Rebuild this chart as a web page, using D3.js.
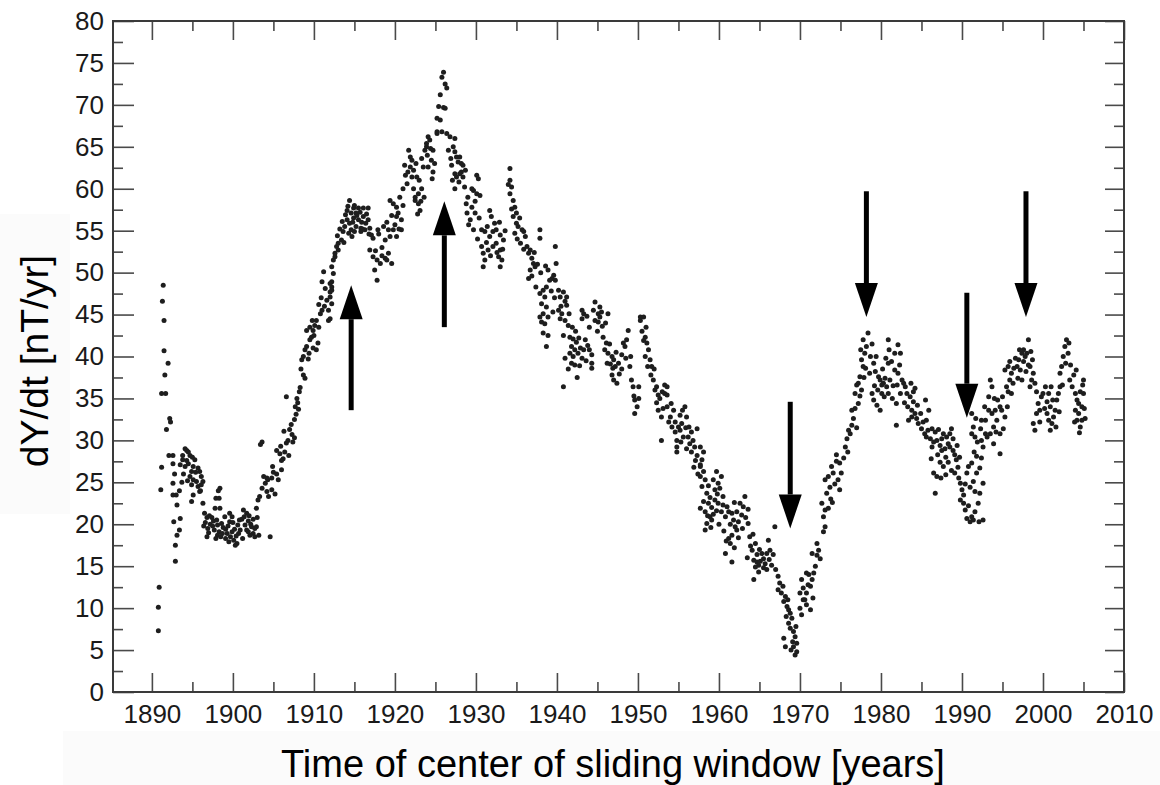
<!DOCTYPE html>
<html><head><meta charset="utf-8">
<script src="https://cdn.jsdelivr.net/npm/d3@7"></script>
<style>html,body{margin:0;padding:0;background:#fff;} svg{display:block;font-family:"Liberation Sans",Arial,Helvetica,sans-serif;}</style>
</head><body><svg id="c" width="1160" height="785"></svg>
<script>
// ---------- tick labels ----------
const xMajorTicks = [1890,1900,1910,1920,1930,1940,1950,1960,1970,1980,1990,2000,2010];
const xMinorTicks = [1895,1905,1915,1925,1935,1945,1955,1965,1975,1985,1995,2005];
const yMajorTicks = [0,5,10,15,20,25,30,35,40,45,50,55,60,65,70,75,80];
const yMinorTicks = [2.5,7.5,12.5,17.5,22.5,27.5,32.5,37.5,42.5,47.5,52.5,57.5,62.5,67.5,72.5,77.5];

// ---------- data: [year, dY/dt] ----------
const pts1890s = [[1890.8,7.3],[1890.8,10.1],[1890.9,12.5],[1891.1,24.1],[1891.2,26.8],[1891.4,48.5],[1891.3,46.6],[1891.5,44.3],[1891.5,40.7],[1892.0,39.2],[1891.6,37.8],[1891.2,35.6],[1891.7,35.6],[1892.2,32.6],[1892.3,32.2],[1891.8,31.3],[1892.1,28.2],[1892.6,28.2],[1892.6,27.2],[1892.6,24.9],[1892.6,23.5],[1893.0,23.5],[1893.4,24.0],[1893.1,22.3],[1893.5,20.7],[1892.7,20.3],[1893.4,19.3],[1893.1,18.7],[1892.9,17.5],[1892.9,15.6],
[1894.1,29.0],[1894.3,28.8],[1894.5,28.6],[1893.8,28.2],[1894.7,28.2],[1893.8,27.7],[1894.3,27.6],[1895.3,27.7],[1893.5,27.1],[1894.1,26.9],[1895.1,26.9],[1895.7,26.7],[1894.9,26.3],[1895.9,26.3],[1894.7,25.7],[1896.1,25.7],[1895.1,25.3],[1895.5,25.1],[1896.3,25.1],[1894.9,24.7],[1895.7,24.5],[1896.1,24.7],[1895.1,23.5],[1895.9,23.9],[1894.9,22.7],
[1893.9,26.0],[1894.5,27.2],[1895.0,28.0],[1895.4,26.2],[1896.0,24.0],[1894.4,25.2],[1893.7,25.0],[1892.8,26.0],
[1896.3,22.5],[1896.5,21.3],[1896.8,20.8],[1897.4,20.8],[1896.6,20.2],[1897.2,20.0],[1898.1,19.9],[1896.9,19.5],[1897.7,19.3],[1898.3,19.1],[1899.1,19.4],[1898.6,20.1],[1899.6,20.3],[1896.8,18.5],[1898.1,18.7],[1898.5,18.5],[1899.1,18.3],[1899.7,18.5],[1899.3,18.9],[1899.9,19.1],[1899.0,20.9],[1899.9,20.9],[1899.6,21.3],[1898.4,24.3],[1898.2,24.0],[1897.9,23.1],[1898.3,23.1],[1897.8,21.9],[1898.4,21.9],[1897.5,19.8],[1898.8,19.6],[1897.1,21.0],
[1897.0,19.0],[1897.6,20.4],[1898.0,20.5],[1898.7,18.9],[1899.4,19.8],[1896.4,19.8],[1897.9,18.3],[1899.5,17.9]];

const pts1900s = [[1900.1,18.1],[1900.5,17.7],[1900.3,17.5],[1900.7,18.9],[1900.2,19.4],[1900.6,19.9],[1901.3,21.7],[1901.7,21.3],[1901.1,20.6],[1901.9,20.4],[1902.5,20.6],[1901.5,19.9],[1902.3,19.7],[1902.7,19.5],[1901.7,19.3],[1902.5,18.9],[1902.1,18.7],[1902.7,18.5],[1904.6,18.5],[1902.9,21.9],[1903.1,22.9],[1903.3,23.3],[1903.6,24.3],[1904.0,24.9],[1904.3,25.3],[1903.8,25.7],[1904.2,25.5],[1904.8,25.5],[1905.0,26.2],[1905.4,26.0],[1906.0,26.5],[1903.6,29.8],[1903.4,29.5],[1904.2,23.9],[1904.8,24.1],[1905.2,23.6],[1904.4,23.3],[1905.4,28.8],[1905.8,28.4],[1906.2,27.8],[1906.0,27.6],[1906.6,29.7],[1906.8,30.0],[1907.4,29.8],[1907.6,30.3],[1907.0,31.3],[1907.2,31.9],[1907.6,32.5],[1907.8,33.1],[1908.1,33.7],[1908.0,34.5],[1906.6,35.2],[1908.7,37.8],[1908.9,37.4],[1908.5,39.6],[1908.7,40.0],[1908.9,40.8],[1909.1,41.2],[1909.5,42.0],[1909.7,42.3],[1909.9,43.1],[1910.1,43.7],[1909.5,43.5],[1910.3,44.3],[1910.8,45.1],[1911.0,45.5],[1910.5,41.6],[1909.9,41.0],[1910.3,40.8],[1909.1,43.1],[1908.3,36.3],[1907.9,35.0],
[1900.0,20.2],[1900.4,18.6],[1900.9,19.3],[1901.2,18.3],[1901.9,19.1],[1902.2,20.0],[1902.9,19.7],[1903.0,20.8],[1900.8,20.5],[1902.0,21.0],[1901.4,20.9],[1903.2,18.7],
[1904.9,26.9],[1905.6,25.3],[1906.4,28.6],[1906.9,28.2],[1907.3,30.7],[1907.7,34.0],[1908.2,35.8],[1905.9,29.3],[1906.3,31.1],
[1908.4,38.5],[1909.3,39.7],[1909.8,44.3],[1910.0,42.5],[1910.6,46.2],[1910.9,47.0],[1910.6,43.5],[1909.4,40.4]];

const pts1910s = [[1911.6,46.7],[1912.0,47.7],[1911.8,45.5],[1912.2,48.9],[1911.4,48.1],[1911.0,48.9],[1911.2,50.1],[1912.4,49.9],[1912.6,51.9],[1912.2,48.3],[1911.8,44.3],[1912.0,44.5],[1911.3,46.0],
[1912.0,48.7],[1912.2,47.9],[1912.0,47.1],[1912.2,46.3],[1912.2,50.7],[1912.4,51.5],[1912.6,52.3],[1912.8,53.1],[1913.0,53.5],[1913.4,53.9],[1913.6,54.9],[1913.8,55.5],[1913.0,52.7],
[1912.9,54.4],[1913.2,55.2],[1913.5,56.1],[1913.7,53.6],
[1914.4,58.6],[1914.1,57.4],[1914.6,57.1],[1914.9,57.7],[1915.5,57.7],[1916.1,57.7],[1916.7,57.7],[1914.1,56.3],[1914.4,55.9],[1914.9,56.5],[1915.2,55.5],[1915.5,56.3],[1915.8,55.3],[1916.1,56.7],[1916.4,55.9],[1916.7,56.3],[1915.0,54.9],[1915.8,54.9],[1916.3,55.1],[1914.6,55.1],[1913.9,56.9],[1915.2,57.1],[1916.9,55.3],[1914.3,54.7],
[1914.8,56.0],[1915.3,56.8],[1915.7,57.2],[1916.0,55.2],[1916.5,57.0],[1915.0,58.0],[1914.2,57.9],[1915.9,56.0],[1916.8,54.6],[1914.7,54.3],
[1917.1,54.5],[1917.3,54.1],[1917.9,55.1],[1918.6,55.5],[1919.2,55.1],[1919.4,54.3],[1919.8,55.1],[1920.2,54.3],[1920.8,55.1],[1918.8,53.9],[1916.9,52.7],[1917.3,51.9],[1917.8,51.5],[1918.2,51.1],[1918.8,51.7],[1919.2,52.3],[1919.6,51.1],[1917.8,49.1],[1917.5,50.3],[1918.4,52.0],[1919.0,51.5],
[1918.0,54.6],[1918.4,53.0],[1919.0,56.0],[1919.6,56.8],[1920.0,55.7],[1920.5,55.2],[1917.6,52.6],
[1919.4,58.6],[1919.8,58.2],[1920.2,57.8],[1920.6,59.0],[1920.2,56.7],[1920.8,56.3],[1920.4,57.1],[1921.0,58.0]];

const pts1920s = [[1921.7,64.6],[1921.9,63.8],[1921.2,62.8],[1921.9,62.6],[1922.3,62.2],[1922.7,61.4],[1922.1,61.4],[1921.5,60.6],[1922.3,60.0],[1922.9,59.4],[1922.5,58.6],[1922.9,58.2],[1923.1,57.4],[1923.3,60.0],[1922.1,63.4],[1923.7,64.6],[1923.9,65.0],[1923.5,62.6],[1921.0,60.0],[1922.5,59.0],
[1921.3,61.6],[1921.6,62.0],[1922.6,63.0],[1923.0,61.0],[1923.3,63.6],[1923.6,59.0],[1922.8,57.0],[1923.2,58.5],[1924.0,64.0],[1924.4,64.8],
[1924.1,66.2],[1924.3,65.8],[1923.9,65.4],[1924.7,64.6],[1924.5,63.4],[1924.9,63.0],[1924.7,62.0],[1924.1,62.6],[1925.2,66.6],[1924.6,61.2],
[1926.0,73.9],[1925.8,73.3],[1926.2,72.5],[1926.4,72.0],[1925.6,71.2],[1925.4,69.8],[1926.0,69.7],[1926.2,69.6],[1925.2,68.4],[1925.6,68.2],[1925.2,66.8],[1925.8,66.8],
[1926.4,66.6],[1926.8,66.2],[1927.4,66.0],[1927.2,65.0],[1926.6,64.6],[1927.4,64.4],[1927.6,63.8],[1927.8,63.2],[1928.2,63.0],[1928.4,62.8],[1927.0,62.8],[1927.4,61.8],[1928.2,62.0],[1928.7,62.2],[1927.6,61.4],[1928.4,61.4],[1927.4,60.0],[1928.0,63.8],
[1926.9,63.6],[1927.1,61.0],[1927.9,60.8],[1928.6,60.2],[1928.0,61.8],[1929.0,59.0],[1928.8,58.2],
[1930.1,61.6],[1930.3,61.2],[1929.5,60.0],[1929.7,59.8],[1930.1,59.4],[1930.5,59.2],[1929.5,57.8],[1929.9,57.1],[1928.9,57.1],[1929.3,56.3],[1929.1,55.7],[1929.7,55.1],[1929.9,58.5],[1930.4,56.5],[1930.2,54.0]];

const pts1930s = [[1930.7,55.1],[1931.1,54.9],[1931.7,54.3],[1932.1,54.9],[1932.5,55.1],[1932.3,55.9],[1931.9,56.7],[1931.7,57.4],[1933.0,54.5],[1933.4,53.9],[1930.7,53.1],[1930.9,52.3],[1931.1,51.5],[1930.9,50.7],[1931.5,52.7],[1932.1,53.1],[1932.5,53.5],[1933.0,52.7],[1932.8,51.9],[1933.2,51.5],[1933.0,50.7],
[1931.3,53.6],[1931.8,52.0],[1932.6,52.4],[1932.9,56.0],[1931.4,55.5],[1933.3,52.8],[1933.6,55.0],
[1934.2,62.4],[1934.2,61.0],[1934.4,60.2],[1934.2,59.4],[1934.6,58.6],[1934.8,57.8],[1934.6,56.7],[1935.0,57.1],[1935.4,56.5],[1935.2,55.5],[1935.7,55.1],[1935.0,55.9],[1934.8,54.7],[1935.9,54.9],
[1934.4,57.6],[1935.1,54.0],[1935.5,53.5],[1935.9,52.8],[1936.1,54.3],[1934.0,60.5],
[1936.3,53.1],[1936.5,52.3],[1936.7,52.7],[1936.9,51.7],[1937.1,51.1],[1937.3,50.7],[1936.7,50.3],[1936.5,49.3],
[1936.9,49.6],[1937.2,52.4],[1937.6,51.0],[1937.4,48.3],[1938.0,50.0],[1938.6,50.8],[1939.3,47.8],[1939.7,47.0],[1938.9,42.5],[1939.5,45.3],[1938.3,42.8],
[1937.9,55.1],[1937.9,54.1],[1939.8,53.1],[1939.9,51.1],[1938.9,50.3],[1939.6,49.7],[1939.4,49.3],[1938.7,48.3],[1938.3,47.9],[1937.9,47.5],[1938.5,47.1],[1938.1,46.3],[1938.7,45.9],[1939.1,49.1],[1939.8,49.1],[1938.3,45.1],[1938.9,44.7],[1938.1,44.1],[1938.5,43.9],[1937.9,44.7],[1938.7,41.2]];

const pts1940s = [[1940.2,47.9],[1940.8,47.7],[1940.4,47.1],[1941.2,47.1],[1940.2,45.5],[1940.6,45.1],[1940.4,44.5],[1941.0,44.3],[1941.4,43.7],[1941.2,46.1],[1940.8,42.5],[1941.6,42.3],[1942.0,42.1],[1942.4,41.7],[1941.8,41.2],[1942.2,40.8],[1942.9,41.0],[1942.0,40.0],[1942.6,40.4],[1941.6,40.4],[1941.0,39.8],[1941.8,39.2],[1943.1,39.8],[1943.3,40.8],[1943.1,45.5],[1943.3,45.1],[1943.1,44.5],[1944.3,40.2],[1944.3,39.2],[1944.3,38.6],[1940.8,36.4],
[1940.5,46.0],[1941.0,46.6],[1941.5,45.1],[1941.9,43.5],[1942.3,43.0],[1942.7,42.2],[1942.2,39.0],[1942.8,38.9],[1943.5,42.0],[1943.8,41.3],[1943.6,39.5],[1944.0,40.8],[1944.0,43.5],[1943.7,44.8],[1941.4,38.5],[1942.5,37.5],
[1944.7,46.5],[1945.3,45.9],[1945.5,45.3],[1945.1,45.1],[1946.3,45.1],[1944.7,44.3],[1945.1,44.1],[1945.3,44.7],[1945.7,42.3],[1946.1,41.6],[1945.9,40.8],[1946.3,40.4],[1946.8,40.0],[1947.0,39.6],[1946.6,39.1],[1947.2,38.8],[1947.6,39.2],[1946.8,37.8],[1947.0,37.2],[1948.0,40.2],[1948.2,41.6],[1948.4,41.2],[1948.8,43.1],[1949.0,38.8],[1949.2,37.2],[1949.4,36.4],
[1944.5,45.5],[1945.0,43.0],[1945.6,43.6],[1946.0,44.0],[1946.5,41.5],[1947.3,40.5],[1947.7,37.9],[1948.0,38.5],[1948.5,39.8],[1948.6,42.0],[1947.4,36.8],[1946.9,38.6],[1946.2,39.2],[1949.1,40.0],[1949.5,35.3]];

const pts1950s = [[1950.3,44.7],[1950.7,44.7],[1950.3,44.3],[1950.9,42.3],[1951.1,41.6],[1950.7,41.9],[1951.3,40.8],[1951.5,39.6],[1951.7,38.8],[1951.9,37.2],[1952.3,36.4],[1952.1,36.0],[1952.5,35.4],[1950.1,36.4],[1949.6,34.8],[1949.9,34.0],[1949.6,33.2],[1950.1,35.0],[1953.3,36.6],[1953.6,36.4],[1953.3,35.6],[1953.6,35.4],
[1950.5,43.0],[1950.9,40.0],[1951.2,38.8],[1951.6,37.8],[1951.0,43.5],[1952.0,38.5],[1952.7,35.0],[1952.3,34.5],[1953.0,35.8],[1953.1,33.8],
[1952.5,33.6],[1952.9,32.8],[1953.6,34.0],[1954.0,32.8],[1954.4,33.6],[1953.8,32.2],[1954.2,31.6],[1954.6,32.2],[1955.0,31.6],[1955.4,32.0],[1955.8,34.0],[1956.0,32.8],[1955.2,31.2],[1955.6,30.4],[1956.2,30.4],[1954.8,30.0],[1956.8,30.0],[1957.3,31.4],[1957.7,29.2],[1958.1,28.6],[1956.4,29.6],[1954.8,29.2],[1954.8,28.6],[1956.6,28.6],[1957.3,28.2],[1957.7,27.1],[1952.9,30.0],
[1954.1,34.4],[1954.6,31.0],[1955.2,33.0],[1955.5,33.6],[1955.9,31.5],[1956.3,31.6],[1956.6,31.0],[1957.0,29.2],[1956.0,29.0],[1957.1,27.6],[1955.3,29.8],[1956.9,26.8],[1957.4,26.0],
[1957.9,27.7],[1957.7,26.9],[1958.1,26.3],[1957.7,25.7],[1958.3,25.3],[1957.9,24.5],[1958.5,23.7],[1958.1,22.7],[1958.7,22.5],[1957.7,21.9],[1958.3,21.5],[1958.9,20.9],[1959.1,20.5],[1958.3,19.3],[1958.5,20.1],[1959.7,26.3],[1959.3,25.3],[1959.9,24.9],[1959.5,24.1],[1959.5,22.9],[1959.9,22.5],
[1958.7,24.6],[1958.9,23.2],[1959.1,22.0],[1959.3,21.2],[1959.7,21.6],[1958.6,21.0],[1959.0,19.6],[1959.8,23.6]];

const pts1960s = [[1960.3,25.7],[1960.1,24.3],[1960.5,23.3],[1960.5,22.3],[1961.0,22.1],[1961.2,21.5],[1960.3,21.5],[1960.8,20.9],[1961.6,21.3],[1961.8,20.5],[1962.2,21.5],[1962.6,22.5],[1963.2,23.3],[1963.0,22.1],[1962.8,21.1],[1962.0,19.7],[1962.2,19.3],[1961.6,18.7],[1961.2,18.3],[1961.4,17.7],[1960.8,16.5],[1961.6,15.5],
[1960.0,20.0],[1960.6,19.2],[1961.4,20.0],[1961.9,22.6],[1962.4,20.3],[1962.9,19.5],[1962.4,18.4],[1963.3,20.8],[1963.6,21.8],[1960.9,18.0],[1961.9,17.2],
[1963.6,20.1],[1963.8,18.5],[1964.5,17.7],[1964.1,16.9],[1964.3,15.7],[1964.7,15.5],[1964.9,15.1],[1964.5,14.9],[1965.3,16.5],[1965.5,15.9],[1965.7,15.3],[1965.9,16.5],[1966.3,16.9],[1966.1,18.1],[1966.9,19.7],[1966.5,15.1],[1964.9,14.3],[1964.3,13.4],
[1963.9,17.4],[1964.2,18.8],[1964.7,16.4],[1965.1,15.6],[1965.5,14.8],[1965.9,14.6],[1966.2,15.8],[1966.7,16.4],[1965.0,17.0],[1963.5,16.0],
[1967.3,13.8],[1967.5,13.0],[1967.3,12.2],[1967.7,11.8],[1968.2,11.4],[1968.0,10.8],[1968.4,10.2],[1968.6,9.8],[1968.8,9.4],[1969.0,8.8],[1968.6,8.2],[1968.8,7.6],[1969.2,7.2],[1969.4,6.6],[1969.6,5.8],[1968.0,6.4],[1968.2,5.4],[1969.2,5.4],[1969.4,4.4],
[1967.0,14.6],[1967.9,12.6],[1968.3,9.0],[1968.5,11.0],[1969.1,6.0],[1969.6,4.8],[1969.5,7.8],[1968.9,5.0],
[1970.0,10.0],[1970.2,13.4],[1970.4,12.4],[1970.0,11.8],[1970.8,14.2],[1971.7,14.2],[1971.5,13.4],[1971.3,12.6],[1970.8,11.8],[1970.6,11.0],[1970.8,10.4],[1971.3,9.8],[1970.4,11.0],
[1970.2,9.2],[1971.0,12.8],[1971.1,14.0],[1971.6,11.2],[1971.9,15.0],[1971.5,16.5],
[1972.1,17.7],[1972.3,16.9],[1972.1,16.3],[1972.5,15.9]];

const pts1970s = [[1972.9,19.1],[1973.1,19.7],[1972.9,20.9],[1973.1,21.7],[1973.5,21.9],[1972.7,22.5],[1973.3,23.7],[1973.7,24.4],[1973.1,25.3],[1973.5,25.7],[1974.1,26.1],[1973.9,26.9],[1974.5,27.5],[1974.9,27.3],[1974.7,25.3],[1974.9,24.1],[1974.5,28.3],[1975.4,27.9],[1975.8,30.2],[1976.2,30.8],[1976.4,31.8],[1976.6,32.6],[1976.0,31.2],[1976.4,33.6],[1977.2,34.4],[1976.8,35.6],[1977.0,36.6],[1977.4,37.6],[1977.8,38.8],[1977.6,39.6],[1978.0,40.4],[1978.2,41.2],[1977.8,42.0],[1978.4,42.8],[1977.6,36.0],[1977.2,36.8],
[1973.8,23.0],[1974.3,24.8],[1974.0,22.6],[1975.1,26.1],[1975.6,29.2],[1975.9,28.6],[1976.8,33.8],[1977.0,31.5],[1977.4,35.3],[1977.9,37.5],[1978.1,38.6],[1977.5,40.8],
[1978.7,40.0],[1979.1,39.2],[1979.3,38.2],[1979.7,37.6],[1979.9,37.2],[1980.1,36.6],[1980.3,36.8],[1980.5,37.4],[1980.7,36.4],[1980.9,35.6],[1981.1,37.2],[1980.9,39.2],[1981.3,39.4],[1981.7,40.4],[1982.1,41.4],[1982.4,40.4],[1981.7,38.4],[1982.1,38.0],[1982.6,37.2],[1982.8,36.8],[1980.9,42.0],[1978.9,35.6],[1979.1,34.8],[1979.5,34.2],[1979.9,33.6],[1980.1,35.6],[1982.4,35.6],[1981.9,34.4],[1983.0,36.4],[1983.2,35.6],[1983.6,35.2],[1984.0,34.6],[1984.2,36.2],[1983.8,33.6],[1984.2,33.2],[1983.8,32.8],[1983.4,32.4],[1984.4,32.6],[1984.6,32.0],[1985.0,31.4],[1985.4,30.8],[1981.9,31.8],[1985.9,33.6],[1985.6,32.4],[1986.3,31.4],[1985.6,30.4],[1986.1,30.2],[1986.3,29.2],
[1978.6,38.0],[1978.9,41.5],[1979.4,40.0],[1979.6,36.0],[1980.2,38.5],[1980.6,39.8],[1981.0,40.8],[1981.5,36.5],[1981.4,35.0],[1982.0,36.6],[1982.3,39.0],[1982.9,34.5],[1983.3,34.0],[1983.7,36.8],[1984.0,35.8],[1984.5,34.2],[1984.9,33.2],[1985.2,32.2],[1985.5,34.8],[1985.8,31.2],[1979.2,36.5],[1980.4,35.2]];

const pts1980s = [[1986.7,31.0],[1986.9,30.0],[1987.3,29.4],[1987.5,28.8],[1987.7,30.8],[1988.1,30.4],[1988.3,29.6],[1988.5,29.2],[1988.7,31.4],[1988.9,28.8],[1989.1,28.3],[1989.3,27.7],[1988.3,27.4],[1987.3,27.4],[1987.7,26.9],[1986.5,26.1],[1986.9,25.7],[1986.7,23.7],[1988.7,26.4],[1989.1,26.1],[1989.6,25.5],[1989.8,24.9],[1990.0,24.1],[1990.2,23.5],[1989.8,22.9],[1990.2,22.5],[1990.4,21.7],[1990.6,20.7],[1991.2,20.9],[1991.0,20.3],[1991.4,20.5],[1991.6,21.5],[1992.0,22.5],[1992.2,23.7],[1991.6,23.9],[1991.4,25.1],[1991.8,26.1],[1992.2,26.7],[1992.4,27.9],[1992.6,29.2],[1992.9,30.8],[1992.4,30.0],[1991.8,28.1],[1991.2,27.3],[1990.8,26.9],[1990.6,26.1],[1991.2,33.2],[1991.4,31.6],[1991.2,30.8],[1991.6,30.4],[1992.4,32.4],[1992.1,20.3],[1992.6,20.5],[1992.6,24.9],
[1986.5,29.8],[1987.0,28.3],[1987.1,31.3],[1987.5,30.2],[1987.9,29.0],[1988.0,28.0],[1988.5,30.8],[1988.9,30.2],[1989.4,29.4],[1989.7,28.0],[1989.5,26.8],[1988.0,25.9],[1987.4,25.5],[1986.2,27.8],
[1990.4,24.8],[1990.8,22.2],[1991.0,24.4],[1991.5,28.6],[1991.9,29.8],[1992.3,31.4],[1992.8,34.0],[1991.7,32.6]];

const pts1990s = [[1993.1,30.4],[1993.5,30.8],[1993.9,31.6],[1993.7,33.2],[1994.1,33.6],[1994.3,32.4],[1994.7,30.8],[1994.7,28.4],[1993.9,29.6],[1992.9,32.4],[1993.3,33.6],[1993.5,37.2],[1993.7,36.4],[1994.7,34.0],[1994.9,33.6],[1995.3,32.8],[1995.5,36.4],[1995.7,35.8],[1996.1,35.6],[1995.9,37.2],[1996.1,38.0],[1995.3,38.4],[1995.7,38.8],[1995.9,39.4],[1996.6,39.8],[1997.0,39.6],[1997.2,38.4],[1996.8,38.8],[1997.6,39.4],[1997.8,40.0],[1997.4,40.4],[1998.0,40.4],[1998.2,42.0],[1997.6,40.8],[1998.4,38.8],[1997.4,37.2],[1998.6,37.2],[1998.4,36.4],[1998.8,38.0],[1998.2,39.0],
[1993.3,35.2],[1994.0,35.0],[1994.4,34.8],[1994.2,31.0],[1995.0,35.2],[1995.1,31.4],[1995.6,34.0],[1996.3,36.8],[1996.4,38.6],[1996.9,37.4],[1997.1,40.8],[1997.9,38.2],[1998.5,40.6],[1998.7,39.6],[1999.0,36.8]];

const pts2000s = [[1998.8,32.0],[1999.0,31.2],[1999.2,33.2],[1999.6,33.6],[1999.4,34.4],[1999.8,35.2],[2000.0,35.6],[2000.3,36.4],[2000.5,34.6],[2000.9,34.0],[2000.5,33.2],[2000.7,32.4],[2001.1,32.0],[2000.9,31.2],[2001.3,32.8],[2001.5,33.6],[2001.7,34.8],[2001.9,35.6],[2002.1,36.4],[2002.1,38.0],[2002.3,38.8],[2002.5,40.0],[2002.7,41.2],[2002.9,42.0],[2003.1,40.4],[2003.3,37.2],[2003.6,36.4],[2004.0,35.6],[2004.2,34.8],[2004.4,33.2],[2004.6,31.6],[2004.4,34.4],[2004.8,34.0],[2004.8,32.4],[2005.0,37.2],[2005.0,35.6],[2004.0,33.6],[2004.2,32.4],
[1999.2,35.8],[1999.6,32.2],[2000.2,33.8],[2000.7,35.6],[2001.2,34.8],[2001.0,36.4],[2001.6,31.6],[2002.0,33.4],[2002.4,36.6],[2002.8,39.2],[2003.2,41.6],[2003.4,39.0],[2003.8,37.8],[2004.1,38.4],[2004.6,35.8],[2004.9,36.6],[2005.1,33.8],[2005.2,32.6],[2004.5,30.9],[2003.9,32.2]];

// ---------- arrows (year, tail value, tip value) ----------
const arrowYears = [1914.6, 1926.1, 1968.8, 1978.2, 1990.6, 1997.9];
const arrowTails = [33.6, 43.5, 34.6, 59.7, 47.6, 59.7];
const arrowTips  = [48.5, 58.5, 19.5, 44.7, 32.7, 44.7];

const xTitle = "Time of center of sliding window [years]";
const yTitle = "dY/dt [nT/yr]";

// ---------- drawing ----------
const svg = d3.select('#c');
svg.append('rect').attr('width',1160).attr('height',785).attr('fill','#fff');
svg.append('rect').attr('x',0).attr('y',214).attr('width',70).attr('height',300).attr('fill','#fbfbfb');
svg.append('rect').attr('x',63).attr('y',731).attr('width',1097).attr('height',54).attr('fill','#fbfbfb');

const x = d3.scaleLinear().domain([1885.2, 2010]).range([113, 1124]);
const y = d3.scaleLinear().domain([0, 80]).range([692, 21]);

const tickColor = '#4a4a4a';
function style(g){ g.select('.domain').remove(); g.selectAll('.tick line').attr('stroke',tickColor).attr('stroke-width',1.6); g.selectAll('.tick text').attr('fill','#1a1a1a').attr('font-size',26).attr('font-family','"Liberation Sans",Arial,sans-serif'); }

svg.append('g').attr('transform','translate(0,692)')
  .call(d3.axisBottom(x).tickValues(xMajorTicks).tickSize(-19).tickPadding(13).tickFormat(d3.format('d'))).call(style);
svg.append('g').attr('transform','translate(0,692)')
  .call(d3.axisBottom(x).tickValues(xMinorTicks).tickSize(-10).tickFormat('')).call(style);
svg.append('g').attr('transform','translate(0,21)')
  .call(d3.axisTop(x).tickValues(xMajorTicks).tickSize(-19).tickFormat('')).call(style);
svg.append('g').attr('transform','translate(0,21)')
  .call(d3.axisTop(x).tickValues(xMinorTicks).tickSize(-10).tickFormat('')).call(style);
svg.append('g').attr('transform','translate(113,0)')
  .call(d3.axisLeft(y).tickValues(yMajorTicks).tickSize(-21).tickPadding(9).tickFormat(d3.format('d'))).call(style);
svg.append('g').attr('transform','translate(113,0)')
  .call(d3.axisLeft(y).tickValues(yMinorTicks).tickSize(-10).tickFormat('')).call(style);
svg.append('g').attr('transform','translate(1124,0)')
  .call(d3.axisRight(y).tickValues(yMajorTicks).tickSize(-19).tickFormat('')).call(style);
svg.append('g').attr('transform','translate(1124,0)')
  .call(d3.axisRight(y).tickValues(yMinorTicks).tickSize(-10).tickFormat('')).call(style);

svg.append('rect').attr('x',x.range()[0]).attr('y',y.range()[1])
  .attr('width',x.range()[1]-x.range()[0]).attr('height',y.range()[0]-y.range()[1])
  .attr('fill','none').attr('stroke','#3a3a3a').attr('stroke-width',2);

const allPts = [].concat(pts1890s,pts1900s,pts1910s,pts1920s,pts1930s,pts1940s,pts1950s,pts1960s,pts1970s,pts1980s,pts1990s,pts2000s);
svg.append('g').selectAll('circle').data(allPts).join('circle')
  .attr('cx',d=>x(d[0])).attr('cy',d=>y(d[1])).attr('r',2.5).attr('fill','#1e1e1e');

// arrows
const headLen = 34, headHalf = 11.5;
const ag = svg.append('g');
arrowYears.forEach((yr,i)=>{
  const ax = x(yr), yTail = y(arrowTails[i]), yTip = y(arrowTips[i]);
  const dir = yTip < yTail ? 1 : -1; // 1 => pointing up
  const yBase = yTip + dir*headLen;
  ag.append('line').attr('x1',ax).attr('x2',ax).attr('y1',yTail).attr('y2',yBase)
    .attr('stroke','#000').attr('stroke-width',5);
  ag.append('path').attr('d',`M${ax},${yTip}L${ax-headHalf},${yBase}L${ax+headHalf},${yBase}Z`).attr('fill','#000');
});

svg.append('text').attr('x',613).attr('y',777).attr('text-anchor','middle')
  .attr('font-size',38).attr('fill','#000').text(xTitle);
svg.append('text').attr('transform','translate(48,361) rotate(-90)').attr('text-anchor','middle')
  .attr('font-size',39).attr('fill','#000').text(yTitle);
</script></body></html>
